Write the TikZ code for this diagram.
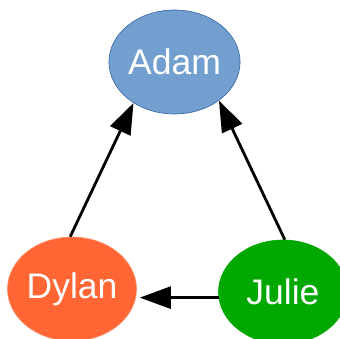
\documentclass[tikz,border=0pt]{standalone}
\usepackage{fontspec}
\setmainfont{Liberation Sans}
\usetikzlibrary{arrows.meta,shapes.geometric}
\definecolor{adamblue}{HTML}{729FCF}
\definecolor{adamedge}{HTML}{3465A4}
\definecolor{dylanorange}{HTML}{FF6633}
\definecolor{juliegreen}{HTML}{00A800}
\begin{document}
\begin{tikzpicture}[x=1pt,y=-1pt,
  person/.style={ellipse, minimum width=129pt, minimum height=104pt, inner sep=0pt,
    text=white, font=\fontsize{35.5}{38}\selectfont},
  link/.style={line width=2.8pt, -{Triangle[length=31pt,width=22pt]}}]
\useasboundingbox (0,0) rectangle (340,339);
\node[person, fill=adamblue, draw=adamedge, line width=0.6pt] (adam) at (174.5,62) {Adam};
\node[person, fill=dylanorange, draw=dylanorange!70!white, line width=0.6pt] (dylan) at (72,289) {Dylan};
\node[person, fill=juliegreen, draw=juliegreen, line width=0.6pt] (julie) at (283,292) {Julie};
\draw[link] (dylan.92) -- (adam.225);
\draw[link] (julie.88) -- (adam.319);
\draw[link, shorten >=3pt] (julie.185) -- (julie.185 -| dylan.east);
\end{tikzpicture}
\end{document}
